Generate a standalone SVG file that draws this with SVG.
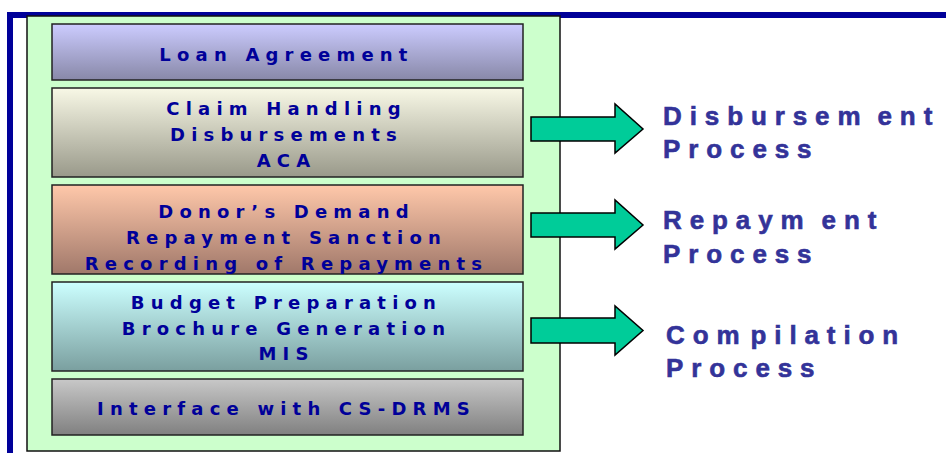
<svg xmlns="http://www.w3.org/2000/svg" width="946" height="453" viewBox="0 0 946 453">
<style>
.box{stroke:#222;stroke-width:1.5}
.bt{font-family:"DejaVu Sans",sans-serif;font-weight:bold;font-size:18px;fill:#000099;letter-spacing:6.2px;text-anchor:middle}
.pt{font-family:"Liberation Sans",Arial,sans-serif;font-weight:bold;font-size:26px;fill:#333399;stroke:#333399;stroke-width:0.6px;letter-spacing:7.9px}
.arrow{fill:#00cc99;stroke:#000;stroke-width:1.5;stroke-linejoin:miter}
</style>
<defs>
<linearGradient id="g1" x1="0" y1="0" x2="0" y2="1"><stop offset="0" stop-color="#ccccff"/><stop offset="1" stop-color="#8888a8"/></linearGradient>
<linearGradient id="g2" x1="0" y1="0" x2="0" y2="1"><stop offset="0" stop-color="#f8f8e6"/><stop offset="1" stop-color="#99998a"/></linearGradient>
<linearGradient id="g3" x1="0" y1="0" x2="0" y2="1"><stop offset="0" stop-color="#ffc8aa"/><stop offset="1" stop-color="#a0786a"/></linearGradient>
<linearGradient id="g4" x1="0" y1="0" x2="0" y2="1"><stop offset="0" stop-color="#ccffff"/><stop offset="1" stop-color="#7a9f9f"/></linearGradient>
<linearGradient id="g5" x1="0" y1="0" x2="0" y2="1"><stop offset="0" stop-color="#c8c8c8"/><stop offset="1" stop-color="#808080"/></linearGradient>
</defs>
<rect width="946" height="453" fill="#fff"/>
<g id="frame">
<rect x="7" y="12" width="939" height="6" fill="#000099"/>
<rect x="7" y="12" width="6" height="441" fill="#000099"/>
<rect x="27" y="16" width="533" height="435" fill="#ccffcc" stroke="#111" stroke-width="1.5"/>
</g>
<g id="loan">
<rect class="box" x="52" y="24" width="471" height="56" fill="url(#g1)"/>
<text class="bt" x="286.5" y="61">Loan Agreement</text>
</g>
<g id="claim">
<rect class="box" x="52" y="88" width="471" height="89" fill="url(#g2)"/>
<text class="bt" x="286.5" y="114.5">Claim Handling</text>
<text class="bt" x="286.5" y="141">Disbursements</text>
<text class="bt" x="286.5" y="166.5">ACA</text>
</g>
<g id="donor">
<rect class="box" x="52" y="185" width="471" height="89" fill="url(#g3)"/>
<text class="bt" x="286.5" y="217.5">Donor’s Demand</text>
<text class="bt" x="286.5" y="244">Repayment Sanction</text>
<text class="bt" x="286.5" y="270">Recording of Repayments</text>
</g>
<g id="budget">
<rect class="box" x="52" y="282" width="471" height="89" fill="url(#g4)"/>
<text class="bt" x="286.5" y="309">Budget Preparation</text>
<text class="bt" x="286.5" y="335">Brochure Generation</text>
<text class="bt" x="286.5" y="360">MIS</text>
</g>
<g id="interface">
<rect class="box" x="52" y="379" width="471" height="56" fill="url(#g5)"/>
<text class="bt" x="286.5" y="415">Interface with CS-DRMS</text>
</g>
<g id="connectors">
<path class="arrow" d="M531,117 H615 V104 L643,129 L615,153 V141 H531 Z"/>
<path class="arrow" d="M531,213 H615 V200 L643,225 L615,249 V237 H531 Z"/>
<path class="arrow" d="M531,318 H615 V306 L643,330.5 L615,355 V343 H531 Z"/>
</g>
<g id="disbursement">
<text class="pt" x="663" y="125">Disbursem<tspan dx="9">ent</tspan></text>
<text class="pt" x="663" y="158">Process</text>
</g>
<g id="repayment">
<text class="pt" x="663" y="228.5">Repaym<tspan dx="10">ent</tspan></text>
<text class="pt" x="663" y="263">Process</text>
</g>
<g id="compilation">
<text class="pt" x="666" y="344">Com<tspan dx="3">pilation</tspan></text>
<text class="pt" x="666" y="377">Process</text>
</g>
</svg>
